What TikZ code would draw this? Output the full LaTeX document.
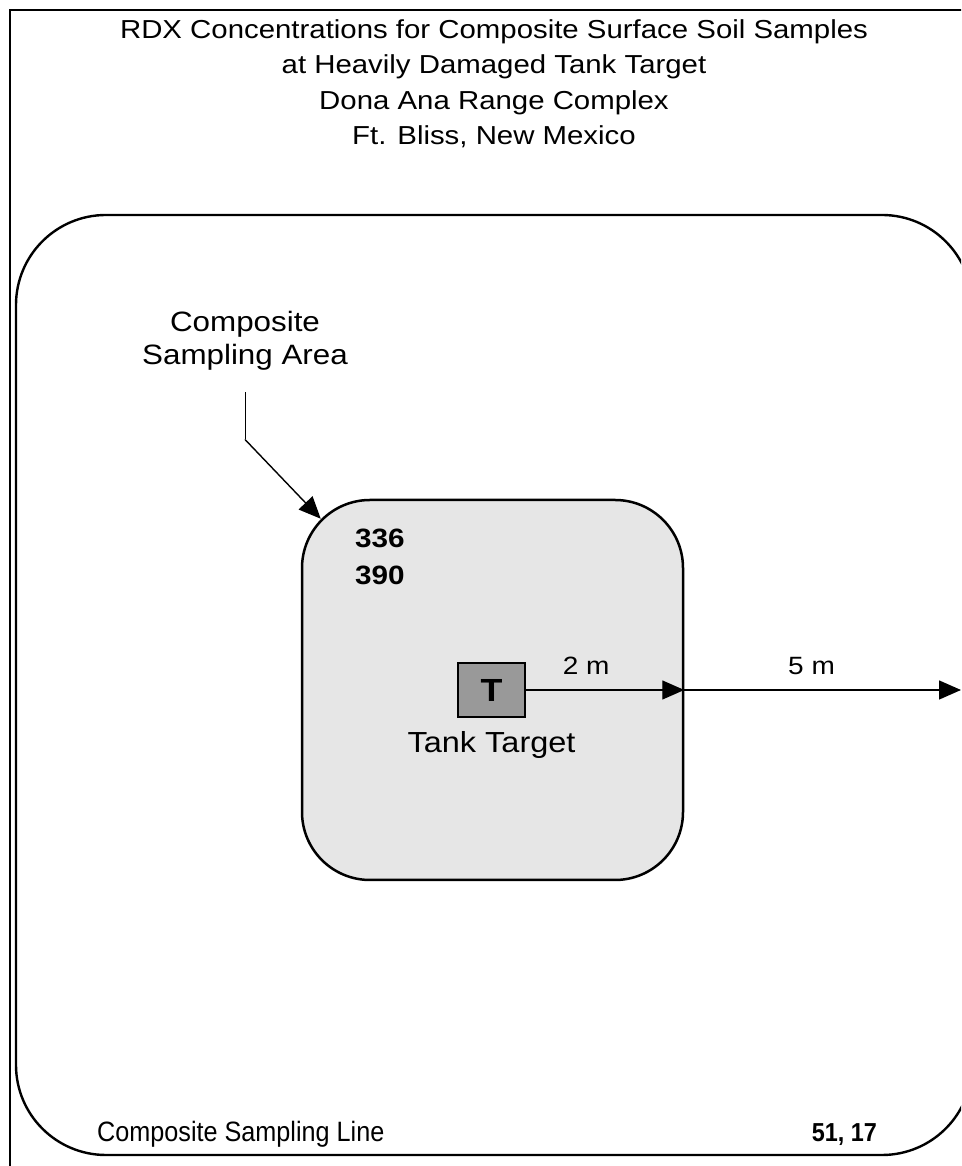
\documentclass[tikz,border=0pt]{standalone}
\usepackage{fontspec}
\setmainfont{Liberation Sans}[FakeStretch=1.12]
\newfontfamily\titlefont{Liberation Sans}[FakeStretch=1.13]
\newfontfamily\narrowfont{Liberation Sans}[FakeStretch=0.9]
\usetikzlibrary{calc,arrows.meta,positioning}
\definecolor{areac}{HTML}{E6E6E6}
\definecolor{tankc}{HTML}{999999}
\tikzset{
  ar/.style={-{Triangle[length=22pt,width=19pt]},line width=1.4pt},
  zone/.style={draw,line width=2.5pt,rounded corners=68pt,fill=areac,minimum width=381pt,minimum height=380pt},
  tankbox/.style={draw,line width=2pt,fill=tankc,minimum width=67pt,minimum height=54pt,inner sep=0pt,font=\fontsize{32}{32}\selectfont\bfseries},
  lbl/.style={inner sep=0pt,font=\fontsize{28}{33}\selectfont,align=center},
  val/.style={inner sep=0pt,font=\fontsize{26.5}{37}\selectfont\bfseries,align=left}
}

\begin{document}
\begin{tikzpicture}[x=1pt,y=1pt]
\useasboundingbox (0,0) rectangle (961,1166);
\clip (0,0) rectangle (961,1166);
% frame and sampling line
\draw[line width=2pt] (980,1156) -- (10,1156) -- (10,-20);
\draw[line width=2.4pt,rounded corners=90pt] (16,11) rectangle (972,951);
\node[anchor=north,inner sep=0pt,align=center,font=\titlefont\fontsize{26}{35.5}\selectfont] (title) at (494,1147)
  {RDX Concentrations for Composite Surface Soil Samples\\at Heavily Damaged Tank Target\\Dona Ana Range Complex\\Ft. Bliss, New Mexico};
% sampling area and target
\node[zone] (zone) at (492.5,476) {};
\node[tankbox] (tank) at (491.5,476) {T};
\node[lbl,below=13pt of tank,font=\fontsize{29}{33}\selectfont] (tanklbl) {Tank Target};
\node[val,anchor=north west] (conc) at (355,637) {336\\390};
\node[lbl,anchor=north] (cap) at (245,855) {Composite\\Sampling Area};
\coordinate (lead) at ([yshift=-22pt]cap.south);
\coordinate (hit) at ([shift={(20pt,-20pt)}]zone.north west);
\draw[line width=1pt] (lead) -- ++(0,-47) coordinate (bend);
\draw[ar] (bend) -- (hit);
% distances
\coordinate (edge) at (961,476);
\draw[ar] (tank.east) -- (zone.east) node[pos=0.38,above=15pt,lbl,font=\fontsize{25}{25}\selectfont] (d2) {2 m};
\draw[ar] (zone.east) -- (edge) node[pos=0.46,above=15pt,lbl,font=\fontsize{25}{25}\selectfont] (d5) {5 m};
% bottom line
\node[lbl,anchor=base west,font=\narrowfont\fontsize{28}{28}\selectfont] (line) at (97,24) {Composite Sampling Line};
\node[val,anchor=base east,font=\narrowfont\fontsize{26}{26}\selectfont\bfseries] (linec) at (877,24) {51, 17};
\end{tikzpicture}
\end{document}
